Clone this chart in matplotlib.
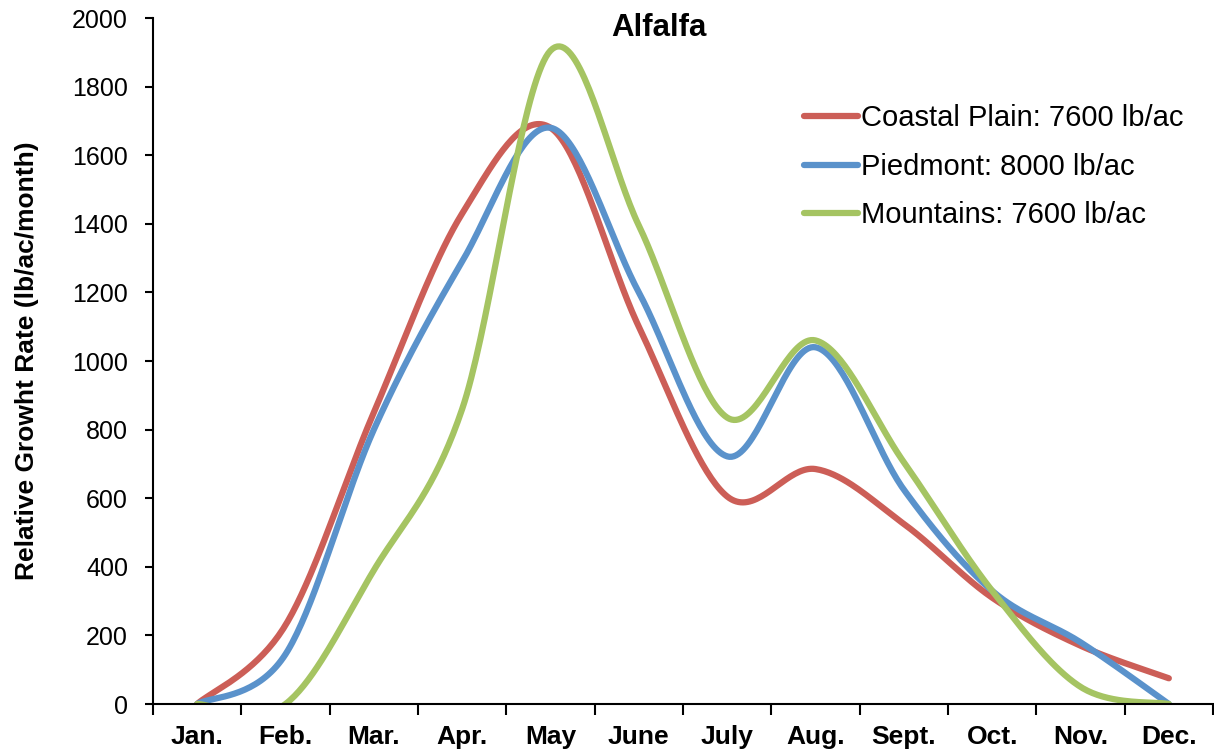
import numpy as np
import matplotlib
matplotlib.use("Agg")
import matplotlib.pyplot as plt

months = ["Jan.", "Feb.", "Mar.", "Apr.", "May", "June", "July", "Aug.", "Sept.", "Oct.", "Nov.", "Dec."]
coastal = [0, 230, 850, 1430, 1680, 1100, 605, 685, 525, 310, 170, 75]
piedmont = [0, 145, 800, 1290, 1680, 1200, 722, 1040, 625, 330, 180, 0]
mountains = [0, 0, 390, 860, 1905, 1395, 835, 1060, 705, 330, 50, 0]
labels = ["Coastal Plain: 7600 lb/ac", "Piedmont: 8000 lb/ac", "Mountains: 7600 lb/ac"]
colors = ["#CC5E57", "#5A92CB", "#A5C462"]

plt.rcParams['font.family'] = ['Liberation Sans', 'DejaVu Sans']


def smooth(xs, ys, n=40):
    """Excel-like smoothed line (Catmull-Rom via cubic Bezier)."""
    xs = np.asarray(xs, float)
    ys = np.asarray(ys, float)
    px = np.concatenate([[xs[0]], xs, [xs[-1]]])
    py = np.concatenate([[ys[0]], ys, [ys[-1]]])
    outx, outy = [], []
    t = np.linspace(0, 1, n)
    for i in range(1, len(px) - 2):
        p0 = np.array([px[i], py[i]])
        p3 = np.array([px[i + 1], py[i + 1]])
        c1 = p0 + (np.array([px[i + 1], py[i + 1]]) - np.array([px[i - 1], py[i - 1]])) / 6
        c2 = p3 - (np.array([px[i + 2], py[i + 2]]) - np.array([px[i], py[i]])) / 6
        b = ((1 - t) ** 3)[:, None] * p0 + (3 * (1 - t) ** 2 * t)[:, None] * c1 \
            + (3 * (1 - t) * t ** 2)[:, None] * c2 + (t ** 3)[:, None] * p3
        outx.extend(b[:, 0]); outy.extend(b[:, 1])
    return np.array(outx), np.array(outy)


fig = plt.figure(figsize=(12.14, 7.55), dpi=100)
ax = fig.add_axes([153 / 1214, 1 - 704 / 755, (1213 - 153) / 1214, (704 - 18) / 755])

x = np.arange(len(months)) + 0.5
for ys, lab, col in zip([coastal, piedmont, mountains], labels, colors):
    sx, sy = smooth(x, ys)
    ax.plot(sx, sy, color=col, lw=4.5, label=lab, solid_capstyle='round', clip_on=True)

ax.set_xlim(0, 12)
ax.set_ylim(0, 2000)
ax.set_yticks(np.arange(0, 2001, 200))
ax.set_xticks(x)
ax.set_xticklabels(months, fontweight='bold', fontsize=19)
ax.set_xticks(np.arange(0, 13), minor=True)
ax.tick_params(axis='x', which='major', length=0, pad=15)
ax.tick_params(axis='x', which='minor', length=8, width=1.5, direction='out')
ax.tick_params(axis='y', length=6, width=1.5, direction='out', labelsize=18, pad=12)
for s in ['top', 'right']:
    ax.spines[s].set_visible(False)
for s in ['left', 'bottom']:
    ax.spines[s].set_linewidth(1.5)

ax.set_ylabel("Relative Growht Rate (lb/ac/month)", fontweight='bold', fontsize=19)
ax.yaxis.set_label_coords(-0.108, 0.5)

fig.text(659 / 1214, 1 - 28 / 755, "Alfalfa", fontweight='bold', fontsize=22.5, ha='center', va='center')

leg = ax.legend(loc='upper left', bbox_to_anchor=(804 / 1214, 1 - 104 / 755), bbox_transform=fig.transFigure,
                frameon=False, fontsize=21, handlelength=1.85, handletextpad=0.1, labelspacing=0.71,
                borderaxespad=0, borderpad=0)

fig.savefig("out.png", dpi=100)
